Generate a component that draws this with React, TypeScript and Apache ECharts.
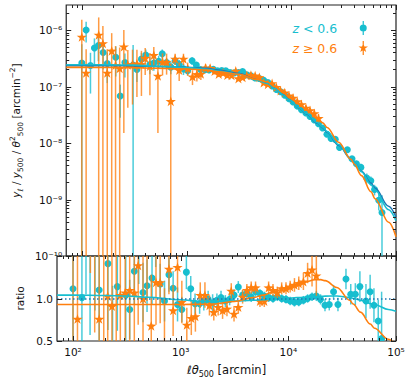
import React, { useEffect, useRef } from 'react';
import * as echarts from 'echarts';

const CYAN = '#17becf';
const ORANGE = '#ff7f0e';
const BLUE = '#1f77b4';
const INK = '#111111';
const FONT = 'DejaVu Sans';

// ---- cyan sample (z < 0.6) ----
const cyanX = [100, 110, 121, 132, 144, 160, 175, 211, 233, 258,
  309, 336, 371, 408, 447, 487, 542, 586, 645, 708,
  778, 851, 935, 1025, 1130, 1240, 1360, 1500, 1640, 1800,
  1980, 2170, 2370, 2600, 2850, 3130, 3430, 3760, 4120, 4520,
  4960, 5450, 5980, 6560, 7200, 7900, 8670, 9510, 10400, 11400,
  12500, 13800, 15100, 16600, 18200, 19900, 21900, 24000, 26300, 28900,
  34300, 38000, 41900, 46200, 52600, 57500, 62400, 68400, 73500];
const cyanY = [2.6e-7, 1.0e-6, 2.35e-7, 4.8e-7, 5.3e-7, 4.0e-7, 2.55e-7, 3.3e-7, 6.8e-8, 2.65e-7,
  2.4e-7, 2.0e-7, 3.05e-7, 3.6e-7, 2.45e-7, 2.6e-7, 2.8e-7, 3.8e-7, 2.65e-7, 2.2e-7,
  2.85e-7, 2.48e-7, 2.05e-7, 1.9e-7, 2.85e-7, 2.4e-7, 2.0e-7, 1.98e-7, 1.97e-7, 2.02e-7,
  1.9e-7, 1.91e-7, 1.9e-7, 1.77e-7, 1.74e-7, 1.77e-7, 1.84e-7, 1.61e-7, 1.55e-7, 1.41e-7,
  1.39e-7, 1.29e-7, 1.17e-7, 1.02e-7, 8.9e-8, 8.1e-8, 7.0e-8, 6.1e-8, 5.3e-8, 4.5e-8,
  3.9e-8, 3.4e-8, 2.95e-8, 2.55e-8, 2.2e-8, 1.84e-8, 1.43e-8, 1.2e-8, 1.16e-8, 8.3e-9,
  7.6e-9, 5.25e-9, 4.3e-9, 3.7e-9, 2.4e-9, 2.15e-9, 1.5e-9, 9.7e-10, 5.9e-10];
const cyanErr = [3.0e-7, 4.0e-7, 1.6e-7, 2.3e-7, 2.5e-7, 2.0e-7, 1.4e-7, 1.8e-7, 4.0e-8, 1.2e-7,
  3.0e-7, 8e-8, 9e-8, 9e-8, 8e-8, 7e-8, 7e-8, 7e-8, 5.5e-8, 5.5e-8,
  4.5e-8, 4.5e-8, 4.5e-8, 3.3e-8, 4.5e-8, 3.3e-8, 2.5e-8, 2.5e-8, 2.1e-8, 2.0e-8,
  2.0e-8, 1.6e-8, 1.5e-8, 1.3e-8, 1.2e-8, 1.2e-8, 1.1e-8, 9e-9, 9e-9, 8e-9,
  8e-9, 6e-9, 5.7e-9, 5e-9, 4.5e-9, 4e-9, 3.5e-9, 3.1e-9, 2.8e-9, 2.4e-9,
  2.1e-9, 1.7e-9, 1.5e-9, 1.3e-9, 1.3e-9, 1.1e-9, 1.1e-9, 9e-10, 8.6e-10, 7e-10,
  7.4e-10, 6e-10, 5.3e-10, 5.8e-10, 4.9e-10, 4e-10, 3.2e-10, 3.3e-10, 6e-10];
const cyanRatio = [1.115, 4.3, 1.01, 2.05, 2.27, 1.71, 1.10, 1.41, 0.29, 1.14,
  1.04, 0.87, 1.32, 1.56, 1.07, 1.15, 1.24, 1.68, 1.17, 0.97,
  1.28, 1.12, 0.93, 0.87, 1.31, 1.115, 0.94, 0.94, 0.96, 0.99,
  0.95, 0.98, 1.01, 0.97, 0.99, 1.04, 1.135, 1.04, 1.06, 1.02,
  1.08, 1.06, 1.03, 1.01, 1.0, 1.02, 1.0, 0.99, 0.97, 0.955,
  0.96, 0.98, 1.0, 1.02, 1.03, 0.99, 0.92, 0.93, 1.08, 0.93,
  1.23, 1.05, 1.05, 1.14, 0.97, 1.08, 0.92, 0.735, 0.53];
const cyanRatioErr = [1.3, 1.7, 0.7, 1.0, 1.7, 0.85, 0.6, 0.78, 0.86, 0.52,
  1.3, 0.35, 0.39, 0.39, 0.35, 0.31, 0.31, 0.31, 0.24, 0.24,
  0.2, 0.2, 0.2, 0.15, 0.2, 0.15, 0.12, 0.12, 0.1, 0.1,
  0.1, 0.08, 0.08, 0.07, 0.07, 0.07, 0.07, 0.06, 0.06, 0.06,
  0.06, 0.05, 0.05, 0.05, 0.05, 0.05, 0.05, 0.05, 0.05, 0.05,
  0.05, 0.05, 0.05, 0.05, 0.06, 0.06, 0.07, 0.07, 0.08, 0.08,
  0.12, 0.12, 0.13, 0.18, 0.2, 0.2, 0.2, 0.25, 0.55];

// ---- orange sample (z >= 0.6) ----
const orangeX = [100, 110, 145, 159, 175, 193, 210, 230, 252, 275,
  305, 336, 371, 403, 447, 487, 533, 590, 645, 707,
  778, 851, 935, 1025, 1140, 1255, 1370, 1520, 1680, 1850,
  2030, 2230, 2450, 2690, 2950, 3130, 3430, 3760, 4120, 4520,
  4960, 5450, 5980, 6560, 7200, 7900, 8670, 9510, 10400, 11400,
  12500, 13800, 15100, 16600, 18200];
const orangeY = [7.6e-7, 1.75e-7, 8.2e-7, 5.8e-7, 1.75e-7, 4.3e-7, 2.4e-7, 2.1e-7, 5.1e-7, 2.42e-7,
  2.48e-7, 2.55e-7, 2.48e-7, 3.2e-7, 2.3e-7, 3.6e-7, 1.55e-7, 2.72e-7, 2.72e-7, 5.5e-8,
  3.1e-7, 1.95e-7, 3.1e-7, 2.1e-7, 1.5e-7, 1.65e-7, 1.68e-7, 2.15e-7, 2.12e-7, 1.87e-7,
  1.67e-7, 1.74e-7, 1.6e-7, 1.58e-7, 1.9e-7, 1.39e-7, 1.46e-7, 1.58e-7, 1.6e-7, 1.56e-7,
  1.46e-7, 1.18e-7, 1.1e-7, 1.14e-7, 9.8e-8, 8.45e-8, 7.8e-8, 6.9e-8, 6.3e-8, 5.45e-8,
  4.85e-8, 4.2e-8, 3.8e-8, 3.35e-8, 2.75e-8];
const orangeErr = [7.6e-7, 2.8e-7, 8.5e-7, 6.0e-7, 2.8e-7, 4.5e-7, 2.8e-7, 2.8e-7, 4.95e-7, 2.0e-7,
  2.0e-7, 1.9e-7, 1.8e-7, 1.6e-7, 1.6e-7, 1.4e-7, 1.4e-7, 1.15e-7, 1.1e-7, 2.0e-7,
  7e-8, 7e-8, 7e-8, 5.5e-8, 4.4e-8, 4.3e-8, 3.8e-8, 3.2e-8, 3.1e-8, 2.4e-8,
  2.0e-8, 1.9e-8, 1.9e-8, 1.6e-8, 1.6e-8, 1.5e-8, 1.3e-8, 1.2e-8, 1.0e-8, 9.7e-9,
  9e-9, 8.5e-9, 8e-9, 7e-9, 6.2e-9, 5.5e-9, 4.9e-9, 4.3e-9, 3.9e-9, 3.8e-9,
  3.3e-9, 3.5e-9, 3.5e-9, 5e-9, 5.4e-9];
const orangeRatio = [3.3, 0.76, 3.5, 2.5, 0.76, 1.85, 1.03, 0.91, 2.2, 1.04,
  1.07, 1.10, 1.07, 1.39, 1.0, 1.57, 0.68, 1.19, 1.19, 0.24,
  1.35, 0.86, 1.37, 0.96, 0.69, 0.77, 0.79, 1.04, 1.04, 0.92,
  0.84, 0.90, 0.86, 0.88, 1.09, 0.82, 0.90, 1.02, 1.10, 1.13,
  1.13, 0.97, 0.97, 1.13, 1.10, 1.07, 1.12, 1.12, 1.14, 1.16,
  1.18, 1.2, 1.3, 1.34, 1.27];
const orangeRatioErr = [3.2, 1.2, 2.2, 1.9, 1.2, 1.7, 1.2, 1.2, 1.7, 1.0,
  1.0, 0.9, 0.82, 0.7, 0.7, 0.6, 0.6, 0.5, 0.48, 0.88,
  0.3, 0.3, 0.3, 0.25, 0.2, 0.2, 0.18, 0.15, 0.15, 0.12,
  0.1, 0.1, 0.1, 0.09, 0.09, 0.09, 0.08, 0.08, 0.07, 0.07,
  0.07, 0.07, 0.07, 0.07, 0.07, 0.07, 0.07, 0.07, 0.07, 0.08,
  0.08, 0.1, 0.12, 0.2, 0.25];

// ---- model curves ----
const modelX = [71, 100, 200, 316, 500, 1000, 1585, 2000, 3162, 4700,
  5890, 7000, 8318, 9600, 12000, 14000, 17700, 20000, 22000, 28300,
  37150, 40000, 46800, 57700, 63100, 85000, 100000];
const blueModel = [2.34e-7, 2.34e-7, 2.33e-7, 2.32e-7, 2.26e-7, 2.19e-7, 2.09e-7, 1.95e-7, 1.70e-7, 1.32e-7,
  1.15e-7, 9.3e-8, 7.2e-8, 5.75e-8, 4.17e-8, 3.27e-8, 2.24e-8, 1.86e-8, 1.55e-8, 9.1e-9,
  5.25e-9, 4.5e-9, 3.16e-9, 1.95e-9, 1.58e-9, 7.6e-10, 4.9e-10];
const cyanModel = [2.43e-7, 2.43e-7, 2.41e-7, 2.39e-7, 2.29e-7, 2.16e-7, 2.02e-7, 1.88e-7, 1.65e-7, 1.29e-7,
  1.13e-7, 9.2e-8, 7.16e-8, 5.75e-8, 4.21e-8, 3.32e-8, 2.29e-8, 1.91e-8, 1.59e-8, 9.4e-9,
  5.3e-9, 4.5e-9, 3.1e-9, 1.83e-9, 1.47e-9, 6.6e-10, 4.2e-10];
const orangeModel = [2.18e-7, 2.18e-7, 2.17e-7, 2.16e-7, 2.1e-7, 2.04e-7, 1.95e-7, 1.82e-7, 1.64e-7, 1.33e-7,
  1.2e-7, 9.95e-8, 7.9e-8, 6.5e-8, 4.86e-8, 3.89e-8, 2.73e-8, 2.27e-8, 1.88e-8, 1.03e-8,
  5.15e-9, 4.2e-9, 2.65e-9, 1.37e-9, 1.03e-9, 3.95e-10, 2.2e-10];
const cyanRatioModel = [1.04, 1.04, 1.035, 1.03, 1.015, 0.985, 0.965, 0.963, 0.97, 0.98,
  0.985, 0.99, 0.995, 1.0, 1.01, 1.015, 1.022, 1.025, 1.028, 1.03,
  1.01, 1.0, 0.98, 0.94, 0.93, 0.87, 0.85];
const orangeRatioModel = [0.93, 0.93, 0.93, 0.93, 0.93, 0.93, 0.932, 0.935, 0.965, 1.01,
  1.04, 1.07, 1.10, 1.13, 1.165, 1.19, 1.22, 1.222, 1.21, 1.13,
  0.98, 0.935, 0.84, 0.70, 0.65, 0.52, 0.45];

// ---- axes ----
const X_MIN = 71;
const X_MAX = 100000;
const Y_MIN = 1e-10;
const Y_MAX = 2.77e-6;
const R_MIN = 0.5;
const R_MAX = 1.5;
const xMajorTicks = [100, 1000, 10000, 100000];
const yMajorTicks = [1e-10, 1e-9, 1e-8, 1e-7, 1e-6];
const rMajorTicks = [0.5, 1.0, 1.5];
const legendNames = ['z < 0.6', 'z ≥ 0.6'];

const SUP: Record<string, string> = {
  '0': '⁰', '1': '¹', '2': '²', '3': '³', '4': '⁴', '5': '⁵', '6': '⁶', '7': '⁷', '8': '⁸', '9': '⁹', '-': '⁻',
};
function powLabel(v: number): string {
  const l = Math.log10(v);
  const e = Math.round(l);
  if (Math.abs(l - e) > 1e-6) return '';
  return '10' + String(e).split('').map((c) => SUP[c] || c).join('');
}

function minorLog(lo: number, hi: number, k0: number, k1: number): number[] {
  const out: number[] = [];
  for (let k = k0; k <= k1; k++) {
    for (let m = 2; m <= 9; m++) {
      const v = m * Math.pow(10, k);
      if (v > lo && v < hi) out.push(v);
    }
  }
  return out;
}

function starPoints(cx: number, cy: number, R: number, r: number): number[][] {
  const pts: number[][] = [];
  for (let i = 0; i < 10; i++) {
    const a = -Math.PI / 2 + (i * Math.PI) / 5;
    const rad = i % 2 === 0 ? R : r;
    pts.push([cx + rad * Math.cos(a), cy + rad * Math.sin(a)]);
  }
  return pts;
}

function errSeries(name: string, color: string, marker: 'circle' | 'star', xs: number[], ys: number[], errs: number[], gi: number, isLog: boolean) {
  const data = xs.map((x, i) => [x, ys[i], ys[i] - errs[i], ys[i] + errs[i]]);
  return {
    type: 'custom',
    name,
    xAxisIndex: gi,
    yAxisIndex: gi,
    clip: true,
    silent: true,
    z: 2,
    encode: { x: 0, y: 1 },
    itemStyle: { color },
    data,
    renderItem: (params: any, api: any) => {
      const cs = params.coordSys;
      const x = api.value(0);
      const y = api.value(1);
      const lo = api.value(2);
      const hi = api.value(3);
      const top = cs.y;
      const bot = cs.y + cs.height;
      const p = api.coord([x, y]);
      let yHi = api.coord([x, hi])[1];
      let yLo = isLog && lo <= 0 ? bot + 5 : api.coord([x, lo])[1];
      yHi = Math.max(top - 2, Math.min(bot + 2, yHi));
      yLo = Math.max(top - 2, Math.min(bot + 2, yLo));
      const children: any[] = [
        {
          type: 'line',
          shape: { x1: p[0], y1: yLo, x2: p[0], y2: yHi },
          style: { stroke: color, lineWidth: 1.5, opacity: 0.78 },
        },
      ];
      if (p[1] > top - 6 && p[1] < bot + 6) {
        if (marker === 'circle') {
          children.push({ type: 'circle', shape: { cx: p[0], cy: p[1], r: 3.5 }, style: { fill: color } });
        } else {
          children.push({ type: 'polygon', shape: { points: starPoints(p[0], p[1] + 0.6, 5.4, 2.1) }, style: { fill: color } });
        }
      }
      return { type: 'group', children };
    },
  };
}

function tickSeries(gi: number, yRef: number, xRef: number, xMinor: number[], yMajor: number[], yMinor: number[]) {
  const data: number[][] = [];
  xMajorTicks.forEach((v) => data.push([v, yRef, 0, 5]));
  xMinor.forEach((v) => data.push([v, yRef, 0, 3]));
  yMajor.forEach((v) => data.push([xRef, v, 1, 5]));
  yMinor.forEach((v) => data.push([xRef, v, 1, 3]));
  return {
    type: 'custom',
    xAxisIndex: gi,
    yAxisIndex: gi,
    silent: true,
    clip: false,
    z: 6,
    encode: { x: 0, y: 1 },
    data,
    renderItem: (params: any, api: any) => {
      const cs = params.coordSys;
      const kind = api.value(2);
      const len = api.value(3);
      const p = api.coord([api.value(0), api.value(1)]);
      const style = { stroke: '#222', lineWidth: 1 };
      if (kind === 0) {
        const px = Math.round(p[0]) + 0.5;
        return {
          type: 'group',
          children: [
            { type: 'line', shape: { x1: px, y1: cs.y + cs.height, x2: px, y2: cs.y + cs.height - len }, style },
            { type: 'line', shape: { x1: px, y1: cs.y, x2: px, y2: cs.y + len }, style },
          ],
        };
      }
      const py = Math.round(p[1]) + 0.5;
      return {
        type: 'group',
        children: [
          { type: 'line', shape: { x1: cs.x, y1: py, x2: cs.x + len, y2: py }, style },
          { type: 'line', shape: { x1: cs.x + cs.width, y1: py, x2: cs.x + cs.width - len, y2: py }, style },
        ],
      };
    },
  };
}

function lineSeries(xs: number[], ys: number[], color: string, gi: number, extra: any = {}) {
  return {
    type: 'line',
    xAxisIndex: gi,
    yAxisIndex: gi,
    data: xs.map((x, i) => [x, ys[i]]),
    showSymbol: false,
    silent: true,
    smooth: 0.35,
    smoothMonotone: 'x',
    clip: true,
    z: 3,
    lineStyle: { color, width: 1.6 },
    itemStyle: { color },
    ...extra,
  };
}

const rich = {
  n: { fontSize: 10.5, fontFamily: FONT, color: INK, lineHeight: 16, verticalAlign: 'middle' },
  v: { fontSize: 10.5, fontFamily: FONT, fontStyle: 'italic', color: INK, lineHeight: 16, verticalAlign: 'middle' },
  s: { fontSize: 7.5, fontFamily: FONT, color: INK, lineHeight: 9, verticalAlign: 'bottom' },
  p: { fontSize: 7.5, fontFamily: FONT, color: INK, lineHeight: 9, verticalAlign: 'top' },
};
const richX = {
  n: { fontSize: 11.5, fontFamily: FONT, color: INK, lineHeight: 16, verticalAlign: 'middle' },
  v: { fontSize: 11.5, fontFamily: FONT, fontStyle: 'italic', color: INK, lineHeight: 16, verticalAlign: 'middle' },
  s: { fontSize: 8, fontFamily: FONT, color: INK, lineHeight: 9, verticalAlign: 'bottom' },
};

function buildOption() {
  const xMinor = minorLog(X_MIN, X_MAX, 1, 4);
  const yMinor = minorLog(Y_MIN, Y_MAX, -10, -6);
  const circleIcon = 'path://M4.4,0H5.6V14H4.4Z M8.5,7A3.5,3.5,0,1,1,1.5,7A3.5,3.5,0,1,1,8.5,7Z';
  const starIcon = 'path://M4.4,0H5.6V14H4.4Z M5,2L6.18,5.38L9.76,5.45L6.9,7.62L7.94,11.05L5,9L2.06,11.05L3.1,7.62L0.24,5.45L3.82,5.38Z';
  const axisLabelStyle = { fontSize: 10.5, fontFamily: FONT, color: INK };
  return {
    animation: false,
    textStyle: { fontFamily: FONT },
    grid: [
      { left: 57, top: 5, width: 339, height: 251, show: true, borderColor: '#222', borderWidth: 1.2, backgroundColor: 'transparent' },
      { left: 57, top: 256, width: 339, height: 85, show: true, borderColor: '#222', borderWidth: 1.2, backgroundColor: 'transparent' },
    ],
    legend: {
      orient: 'vertical',
      right: 35,
      top: 16,
      align: 'right',
      itemWidth: 10,
      itemHeight: 14,
      itemGap: 6,
      selectedMode: false,
      data: [
        { name: legendNames[0], icon: circleIcon, textStyle: { color: CYAN } },
        { name: legendNames[1], icon: starIcon, textStyle: { color: ORANGE } },
      ],
      formatter: (n: string) => '{i|z}' + n.slice(1),
      textStyle: {
        fontSize: 12.5,
        fontFamily: FONT,
        padding: [0, 16, 0, 0],
        rich: { i: { fontStyle: 'italic', fontSize: 12.5, fontFamily: FONT } },
      },
    },
    xAxis: [
      {
        type: 'log', logBase: 10, gridIndex: 0, min: X_MIN, max: X_MAX,
        axisLine: { show: false }, axisTick: { show: false }, axisLabel: { show: false }, splitLine: { show: false },
      },
      {
        type: 'log', logBase: 10, gridIndex: 1, min: X_MIN, max: X_MAX,
        axisLine: { show: false }, axisTick: { show: false }, splitLine: { show: false },
        axisLabel: { ...axisLabelStyle, margin: 5, interval: 0, formatter: (v: number) => powLabel(v) },
        name: '{n|ℓ}{v|θ}{s|500}{n| [arcmin]}',
        nameLocation: 'middle',
        nameGap: 21,
        nameTextStyle: { fontSize: 11.5, fontFamily: FONT, color: INK, rich: richX },
      },
    ],
    yAxis: [
      {
        type: 'log', logBase: 10, gridIndex: 0, min: Y_MIN, max: Y_MAX,
        axisLine: { show: false }, axisTick: { show: false }, splitLine: { show: false },
        axisLabel: { ...axisLabelStyle, margin: 4, interval: 0, formatter: (v: number) => powLabel(v) },
        name: '{v|y}{s|ℓ}{n| / }{v|y}{s|500}{n| / }{v|θ}{p|2}{s|500}{n| [arcmin}{p|−2}{n|]}',
        nameLocation: 'middle',
        nameGap: 39,
        nameTextStyle: { fontSize: 10.5, fontFamily: FONT, color: INK, rich },
      },
      {
        type: 'value', gridIndex: 1, min: R_MIN, max: R_MAX, interval: 0.5,
        axisLine: { show: false }, axisTick: { show: false }, splitLine: { show: false },
        axisLabel: { ...axisLabelStyle, margin: 4, formatter: (v: number) => (Math.abs(v - 1.5) < 1e-9 ? '' : v.toFixed(1)) },
        name: 'ratio',
        nameLocation: 'middle',
        nameGap: 29,
        nameTextStyle: { fontSize: 10.5, fontFamily: FONT, color: INK },
      },
    ],
    series: [
      errSeries(legendNames[0], CYAN, 'circle', cyanX, cyanY, cyanErr, 0, true),
      errSeries(legendNames[1], ORANGE, 'star', orangeX, orangeY, orangeErr, 0, true),
      errSeries(legendNames[0], CYAN, 'circle', cyanX, cyanRatio, cyanRatioErr, 1, false),
      errSeries(legendNames[1], ORANGE, 'star', orangeX, orangeRatio, orangeRatioErr, 1, false),
      lineSeries(modelX, blueModel, BLUE, 0),
      lineSeries(modelX, cyanModel, CYAN, 0),
      lineSeries(modelX, orangeModel, ORANGE, 0),
      lineSeries(modelX, cyanRatioModel, CYAN, 1, {
        markLine: {
          silent: true,
          symbol: 'none',
          label: { show: false },
          lineStyle: { color: BLUE, width: 1.5, type: [1.5, 2.5] },
          data: [{ yAxis: 1 }],
        },
      }),
      lineSeries(modelX, orangeRatioModel, ORANGE, 1),
      tickSeries(0, 1e-8, 1000, xMinor, yMajorTicks, yMinor),
      tickSeries(1, 1.0, 1000, xMinor, rMajorTicks, []),
    ],
  };
}

export default function App() {
  const ref = useRef<HTMLDivElement>(null);
  useEffect(() => {
    document.body.style.margin = '0';
    const chart = echarts.init(ref.current as HTMLDivElement, null, { renderer: 'svg' });
    chart.setOption(buildOption() as any);
    return () => chart.dispose();
  }, []);
  return <div ref={ref} style={{ width: 408, height: 380, position: 'absolute', left: 0, top: 0 }} />;
}
